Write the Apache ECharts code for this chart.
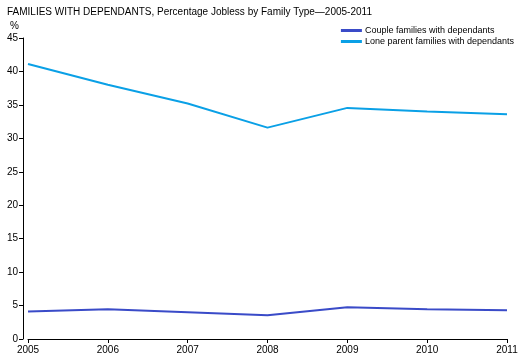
<!DOCTYPE html>
<html><head><meta charset="utf-8">
<script src="https://cdn.jsdelivr.net/npm/echarts@6/dist/echarts.min.js"></script>
<style>html,body{margin:0;padding:0;background:#fff}#c{width:529px;height:363px}</style>
</head><body><div id="c"></div>
<script>
const years = ['2005','2006','2007','2008','2009','2010','2011'];
const couple = [4.1, 4.45, 4.0, 3.55, 4.75, 4.45, 4.3];
const loneParent = [41.1, 38.0, 35.2, 31.6, 34.55, 34.0, 33.6];
const seriesNames = ['Couple families with dependants', 'Lone parent families with dependants'];
const yTicks = [0, 5, 10, 15, 20, 25, 30, 35, 40, 45];

const font = 'Liberation Sans, Arial, sans-serif';
const chart = echarts.init(document.getElementById('c'));
chart.setOption({
  animation: false,
  textStyle: { fontFamily: font },
  title: {
    text: 'FAMILIES WITH DEPENDANTS, Percentage Jobless by Family Type\u20142005-2011',
    left: 2, top: 2,
    textStyle: { fontSize: 10, fontWeight: 'normal', color: '#000', fontFamily: font }
  },
  graphic: [{ type: 'text', left: 10, top: 21, style: { text: '%', fontSize: 10, fill: '#000', fontFamily: font } }],
  legend: {
    right: 10, top: 21, orient: 'vertical', itemGap: 2,
    itemWidth: 21, itemHeight: 3, icon: 'rect',
    textStyle: { fontSize: 9, color: '#000', fontFamily: font, padding: [0,0,0,-2] },
    data: seriesNames
  },
  grid: { left: 28, right: 22, top: 38, bottom: 24 },
  xAxis: {
    type: 'category', data: years, boundaryGap: false,
    axisLine: { lineStyle: { color: '#000', width: 1 } },
    axisTick: { show: true, length: 4, lineStyle: { color: '#000' } },
    axisLabel: { color: '#000', fontSize: 10, margin: 6, showMinLabel: true, showMaxLabel: true },
    splitLine: { show: false }
  },
  yAxis: {
    type: 'value', min: 0, max: 45, interval: 5, offset: 5,
    axisLine: { show: true, lineStyle: { color: '#000', width: 1 } },
    axisTick: { show: true, length: 4, lineStyle: { color: '#000' } },
    axisLabel: { color: '#000', fontSize: 10, margin: 5,
      formatter: v => yTicks.includes(v) ? String(v) : '' },
    splitLine: { show: false }
  },
  series: [
    { name: seriesNames[0], type: 'line', data: couple, symbol: 'none',
      lineStyle: { color: '#3a4bc8', width: 2 }, itemStyle: { color: '#3a4bc8' } },
    { name: seriesNames[1], type: 'line', data: loneParent, symbol: 'none',
      lineStyle: { color: '#0aa0e6', width: 2 }, itemStyle: { color: '#0aa0e6' } }
  ]
});
</script></body></html>
